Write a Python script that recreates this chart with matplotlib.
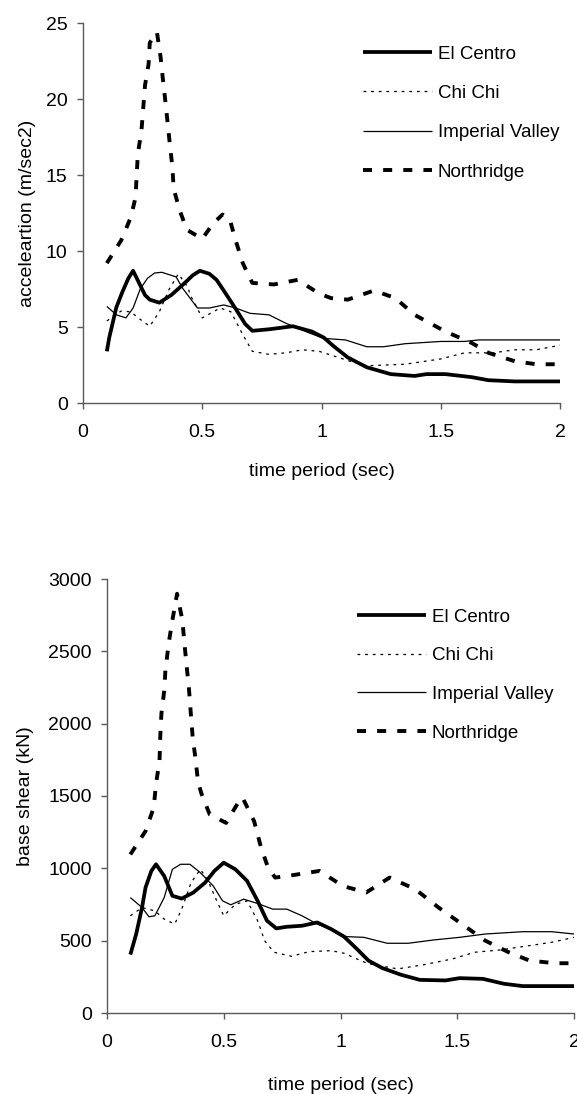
import matplotlib
matplotlib.use("Agg")
import matplotlib.pyplot as plt

plt.rcParams['font.family'] = ['Liberation Sans', 'DejaVu Sans']
plt.rcParams['lines.scale_dashes'] = False

# ---------------- Top chart: acceleration ----------------
acc_elc_x = [0.10, 0.11, 0.14, 0.165, 0.19, 0.21, 0.235, 0.26, 0.28, 0.32, 0.37, 0.42, 0.46, 0.49, 0.53,
             0.56, 0.59, 0.64, 0.68, 0.71, 0.78, 0.88, 0.96, 1.01, 1.05, 1.11, 1.19, 1.29, 1.39, 1.44,
             1.52, 1.63, 1.70, 1.81, 2.00]
acc_elc_y = [3.4, 4.3, 6.3, 7.3, 8.2, 8.7, 7.9, 7.1, 6.8, 6.6, 7.1, 7.8, 8.4, 8.7, 8.5,
             8.1, 7.4, 6.2, 5.2, 4.75, 4.85, 5.05, 4.7, 4.3, 3.75, 3.0, 2.35, 1.9, 1.78, 1.9,
             1.9, 1.7, 1.5, 1.42, 1.42]

acc_chi_x = [0.10, 0.16, 0.20, 0.24, 0.28, 0.32, 0.36, 0.40, 0.44, 0.45, 0.50, 0.575, 0.62, 0.67, 0.71,
             0.78, 0.85, 0.92, 0.99, 1.05, 1.12, 1.19, 1.35, 1.50, 1.60, 1.72, 1.81, 1.90, 2.00]
acc_chi_y = [5.4, 6.05, 6.0, 5.5, 5.05, 6.0, 7.45, 8.5, 7.6, 7.1, 5.6, 6.25, 6.0, 4.5, 3.4,
             3.2, 3.3, 3.5, 3.4, 3.1, 2.75, 2.45, 2.55, 2.9, 3.3, 3.3, 3.5, 3.5, 3.8]

acc_imp_x = [0.10, 0.14, 0.18, 0.21, 0.24, 0.27, 0.30, 0.33, 0.39, 0.42, 0.48, 0.53, 0.59, 0.64, 0.70,
             0.78, 0.85, 0.95, 1.01, 1.10, 1.19, 1.26, 1.35, 1.50, 1.60, 1.66, 2.00]
acc_imp_y = [6.35, 5.8, 5.6, 6.25, 7.5, 8.2, 8.55, 8.6, 8.3, 7.5, 6.25, 6.25, 6.45, 6.25, 5.9,
             5.8, 5.25, 4.6, 4.25, 4.15, 3.7, 3.7, 3.9, 4.05, 4.05, 4.15, 4.15]

acc_nor_x = [0.10, 0.16, 0.20, 0.22, 0.23, 0.245, 0.26, 0.275, 0.28, 0.31, 0.325, 0.335, 0.345, 0.355,
             0.365, 0.375, 0.38, 0.405, 0.435, 0.50, 0.545, 0.585, 0.615, 0.64, 0.67, 0.71, 0.80,
             0.90, 0.99, 1.04, 1.11, 1.22, 1.31, 1.39, 1.52, 1.63, 1.70, 1.81, 1.90, 2.00]
acc_nor_y = [9.2, 10.7, 12.2, 13.5, 16.4, 17.9, 20.9, 22.3, 23.7, 24.4, 22.8, 21.3, 19.9, 18.4,
             16.9, 15.5, 14.1, 12.7, 11.4, 10.8, 11.8, 12.4, 12.1, 10.7, 9.2, 7.9, 7.8,
             8.1, 7.2, 6.9, 6.8, 7.4, 6.9, 5.8, 4.7, 3.95, 3.3, 2.75, 2.55, 2.55]

# ---------------- Bottom chart: base shear ----------------
bs_elc_x = [0.10, 0.125, 0.15, 0.165, 0.19, 0.21, 0.245, 0.28, 0.32, 0.37, 0.42, 0.46, 0.50, 0.55, 0.60,
            0.645, 0.685, 0.725, 0.77, 0.835, 0.90, 0.96, 1.015, 1.07, 1.12, 1.18, 1.26, 1.34, 1.45,
            1.51, 1.61, 1.70, 1.78, 2.00]
bs_elc_y = [404, 546, 729, 867, 982, 1028, 947, 810, 791, 833, 901, 982, 1039, 993, 913,
            775, 638, 585, 596, 603, 626, 580, 528, 443, 362, 310, 264, 229, 225,
            241, 236, 202, 186, 186]

bs_chi_x = [0.10, 0.15, 0.205, 0.245, 0.29, 0.32, 0.36, 0.40, 0.43, 0.47, 0.50, 0.55, 0.60, 0.645, 0.675,
            0.715, 0.79, 0.865, 0.96, 1.015, 1.07, 1.12, 1.245, 1.355, 1.48, 1.575, 1.685, 1.81, 1.905, 2.00]
bs_chi_y = [672, 729, 706, 649, 615, 718, 901, 993, 924, 775, 672, 752, 775, 638, 500,
            420, 392, 424, 431, 413, 374, 340, 305, 333, 374, 420, 436, 466, 489, 523]

bs_imp_x = [0.10, 0.15, 0.18, 0.205, 0.245, 0.28, 0.315, 0.355, 0.40, 0.455, 0.495, 0.53, 0.585, 0.645,
            0.71, 0.77, 0.835, 0.90, 0.96, 1.025, 1.10, 1.20, 1.29, 1.40, 1.51, 1.62, 1.78, 1.905, 2.00]
bs_imp_y = [798, 729, 665, 672, 798, 993, 1028, 1028, 970, 878, 775, 748, 787, 757,
            718, 718, 672, 615, 580, 528, 523, 482, 482, 505, 523, 546, 562, 562, 546]

bs_nor_x = [0.10, 0.165, 0.20, 0.21, 0.225, 0.228, 0.233, 0.246, 0.25, 0.265, 0.28, 0.30, 0.323, 0.331,
            0.343, 0.351, 0.359, 0.367, 0.38, 0.39, 0.405, 0.44, 0.51, 0.565, 0.58, 0.63, 0.66, 0.69,
            0.72, 0.80, 0.91, 1.01, 1.11, 1.21, 1.32, 1.42, 1.51, 1.62, 1.72, 1.81, 1.92, 2.00]
bs_nor_y = [1096, 1257, 1420, 1584, 1745, 1906, 2068, 2241, 2368, 2564, 2714, 2898, 2714, 2564,
            2368, 2241, 2068, 1906, 1745, 1595, 1514, 1372, 1314, 1463, 1490, 1326, 1142, 1004,
            936, 954, 982, 878, 833, 936, 856, 729, 626, 500, 420, 362, 344, 344]

labels = ['El Centro', 'Chi Chi', 'Imperial Valley', 'Northridge']
x_ticks = [0, 0.5, 1, 1.5, 2]
x_tick_labels = ['0', '0.5', '1', '1.5', '2']
acc_ticks = [0, 5, 10, 15, 20, 25]
bs_ticks = [0, 500, 1000, 1500, 2000, 2500, 3000]

W, H = 577, 1094
fig = plt.figure(figsize=(W / 100, H / 100), dpi=100)

def px_axes(l, r, t, b):
    return fig.add_axes([l / W, 1 - b / H, (r - l) / W, (b - t) / H])

ax1 = px_axes(83, 560, 23, 403)
ax2 = px_axes(107, 574, 579, 1013)

styles = [
    dict(color='black', lw=2.7, ls='-'),
    dict(color='black', lw=0.9, dashes=(2.0, 3.5)),
    dict(color='black', lw=0.9, ls='-'),
    dict(color='black', lw=2.8, dashes=(6.5, 8.0)),
]

def draw(ax, series, yticks, ylabel, ylim, leg_anchor, xlpad, ylpad, lspace):
    for (x, y), lab, st in zip(series, labels, styles):
        ax.plot(x, y, label=lab, solid_capstyle='butt', dash_capstyle='butt', **st)
    ax.set_xlim(0, 2)
    ax.set_ylim(*ylim)
    ax.set_xticks(x_ticks)
    ax.set_xticklabels(x_tick_labels)
    ax.set_yticks(yticks)
    ax.set_yticklabels([str(t) for t in yticks])
    for s in ['top', 'right']:
        ax.spines[s].set_visible(False)
    for s in ['left', 'bottom']:
        ax.spines[s].set_color('#5a5a5a')
        ax.spines[s].set_linewidth(1.0)
    ax.tick_params(axis='both', direction='out', length=4, width=1.0, color='#5a5a5a',
                   labelsize=14, labelcolor='black')
    ax.tick_params(axis='x', pad=11)
    ax.tick_params(axis='y', pad=7)
    ax.set_xlabel('time period (sec)', fontsize=14, labelpad=xlpad)
    ax.set_ylabel(ylabel, fontsize=14, labelpad=ylpad)
    ax.patch.set_visible(False)
    leg = ax.legend(loc='upper left', bbox_to_anchor=leg_anchor, frameon=False, fontsize=13.5,
                    handlelength=3.68, handletextpad=0.32, labelspacing=lspace,
                    borderpad=0, borderaxespad=0)
    return leg

draw(ax1, [(acc_elc_x, acc_elc_y), (acc_chi_x, acc_chi_y), (acc_imp_x, acc_imp_y), (acc_nor_x, acc_nor_y)],
     acc_ticks, 'acceleartion (m/sec2)', (0, 25), (0.587, 0.941), 16, 7, 1.19)
draw(ax2, [(bs_elc_x, bs_elc_y), (bs_chi_x, bs_chi_y), (bs_imp_x, bs_imp_y), (bs_nor_x, bs_nor_y)],
     bs_ticks, 'base shear (kN)', (0, 3000), (0.535, 0.932), 19, 10, 1.15)

fig.savefig('out.png', dpi=100)
